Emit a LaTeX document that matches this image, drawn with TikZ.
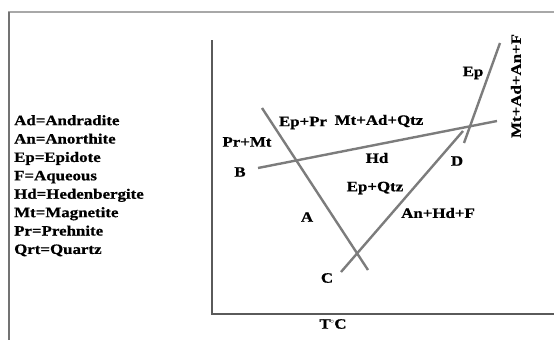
\documentclass[tikz,border=0pt]{standalone}
\usepackage{fontspec}
\usepackage{tikz}
\usetikzlibrary{positioning, calc}
\usepackage{xcolor}
\newfontfamily\phasefont[FakeStretch=1.18, BoldFeatures={FakeBold=0.8}]{Liberation Serif}
\definecolor{framegray}{HTML}{A8A8A8}
\definecolor{axisgray}{HTML}{5A5A5A}
\definecolor{linegray}{HTML}{7C7C7C}

\begin{document}
\begin{tikzpicture}[
    x=1pt, y=-1pt,
    label/.style={
        inner sep=0pt, font=\phasefont\bfseries\fontsize{14.3}{18.4}\selectfont
    },
    boundary/.style={
        draw=linegray, line width=2.4pt
    },
    axis/.style={
        draw=axisgray, line width=1.8pt
    }
]
    \useasboundingbox (0,0) rectangle (554,340);

    % --- frame and axes ---
    \draw [framegray, line width=1.6pt] (9,340) -- (9,12) -- (554,12);
    \draw [axisgray!85, line width=2.6pt] (9,12) -- (9,340);
    \coordinate (ytop) at (212,40);
    \coordinate (origin) at (212,314);
    \coordinate (xend) at (554,314);
    \draw [axis] (ytop) -- (origin) -- (xend);

    % --- end points of the reaction lines ---
    \coordinate (a1) at (262,108);
    \coordinate (a2) at (368,270);
    \coordinate (b1) at (258,168);
    \coordinate (b2) at (497,121);
    \coordinate (c1) at (341,272);
    \coordinate (c2) at (463,131);
    \coordinate (e1) at (464,143);
    \coordinate (e2) at (500,43);

    \path [boundary] (a1) -- (a2);
    \path [boundary] (b1) -- (b2);
    \path [boundary] (c1) -- (c2);
    \path [boundary] (e1) -- (e2);

    % --- labels ---
    \node [label] (prmt) at (247,142) {Pr+Mt};
    \node [label] (eppr) at (303,123) {Ep+Pr};
    \node [label] (mtadqtz) at (379,121) {Mt+Ad+Qtz};
    \node [label] (hd) at (377,158) {Hd};
    \node [label] (ptB) at (240,172) {B};
    \node [label] (ptD) at (457,161) {D};
    \node [label] (ep) at (473,73) {Ep};
    \node [label] (epqtz) at (375,188) {Ep+Qtz};
    \node [label] (ptA) at (307,217) {A};
    \node [label] (anhdf) at (438,213) {An+Hd+F};
    \node [label] (ptC) at (327,278) {C};
    \node [label, rotate=90] (mtadanf) at (516,86) {Mt+Ad+An+F};
    \node [label] (taxis) at (333,324) {T\kern-0.5pt$^{\scriptscriptstyle\circ}$\kern-0.5ptC};

    % --- legend ---
    \node [label, anchor=north west, align=left] (legend) at (14,115)
        {Ad=Andradite\\An=Anorthite\\Ep=Epidote\\F=Aqueous\\Hd=Hedenbergite\\Mt=Magnetite\\Pr=Prehnite\\Qrt=Quartz};

\end{tikzpicture}
\end{document}
